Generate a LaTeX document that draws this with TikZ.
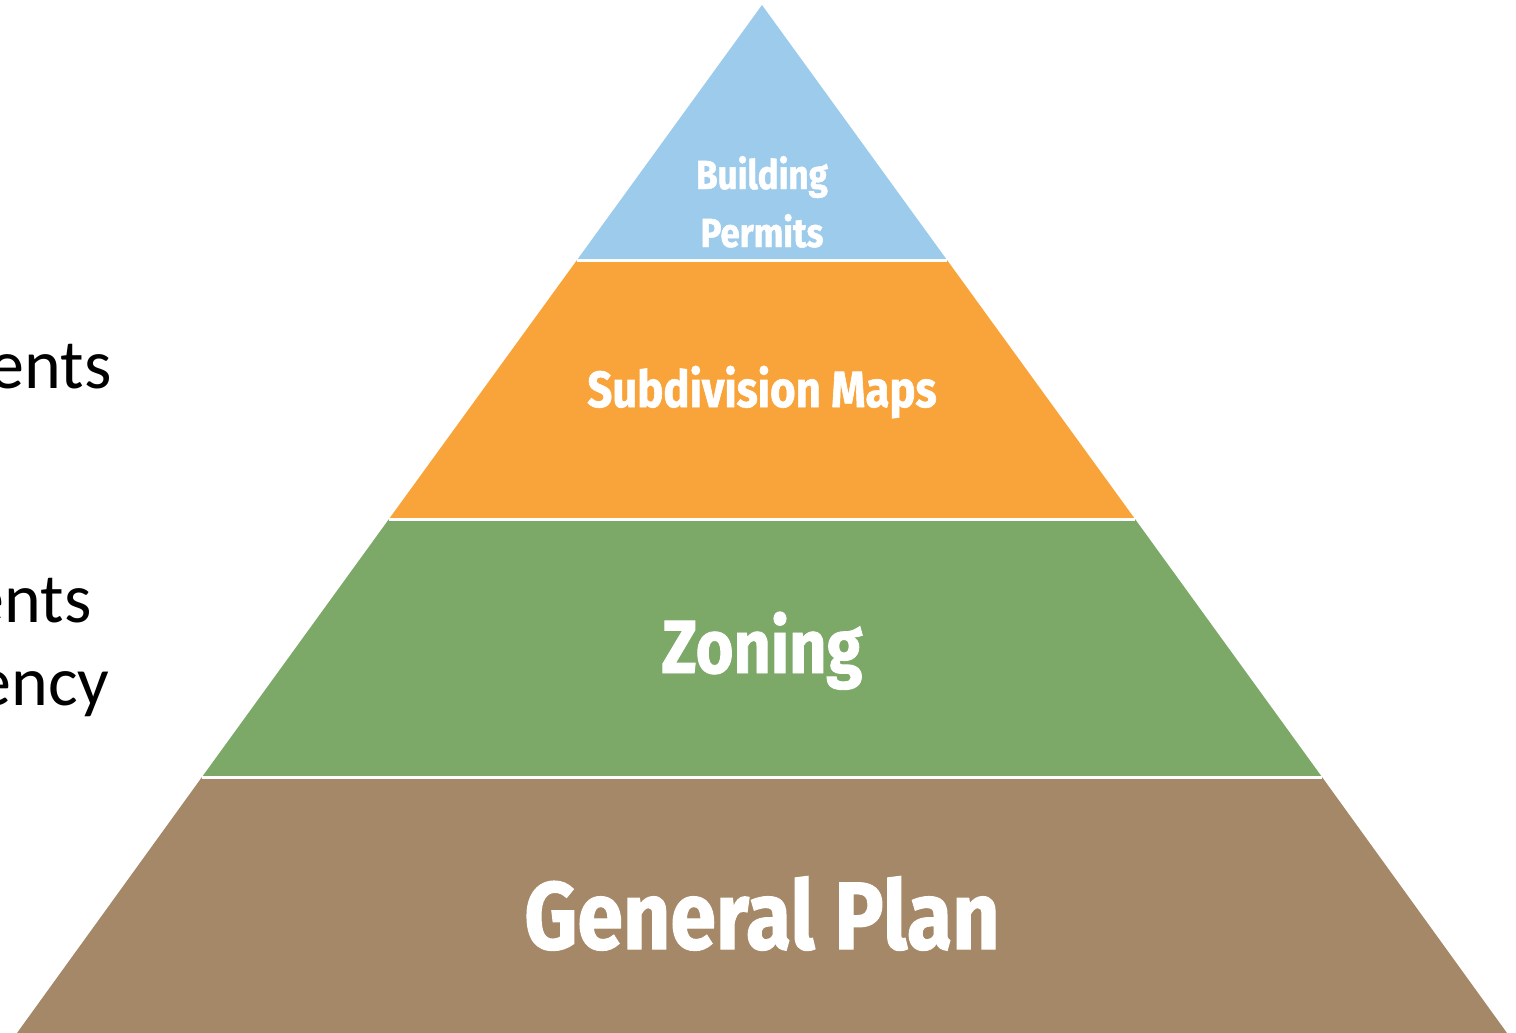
\documentclass[tikz,border=0pt]{standalone}
\usepackage{fontspec}
\setmainfont{Carlito}
\newfontfamily\tierfont[FakeStretch=0.86, BoldFeatures={FakeBold=1.2}]{Fira Sans}
\usetikzlibrary{positioning}
\definecolor{permitblue}{HTML}{9DCBEB}
\definecolor{subdivorange}{HTML}{F9A43A}
\definecolor{zonegreen}{HTML}{7CA968}
\definecolor{planbrown}{HTML}{A58868}
\tikzset{
  tier/.style     = {draw=white, line width=1.5pt, line join=miter},
  tiertext/.style = {text=white, inner sep=0pt, anchor=base},
  sidetext/.style = {text=black, inner sep=0pt, anchor=base east,
                     font=\fontsize{35}{42}\selectfont}
}

\begin{document}
\begin{tikzpicture}[x=0.5pt, y=-0.5pt]
  \useasboundingbox (0,0) rectangle (1516,1033);
  % pyramid tiers, top to bottom
  \fill[planbrown]    (202,777) -- (1322,777) -- (1507,1033) -- (17,1033) -- cycle;
  \fill[zonegreen]    (389,519) -- (1135,519) -- (1322,777) -- (202,777) -- cycle;
  \fill[subdivorange] (577,260) -- (947,260) -- (1135,519) -- (389,519) -- cycle;
  \fill[permitblue]   (762,5) -- (947,260) -- (577,260) -- cycle;
  \draw[tier] (202,777) -- (1322,777);
  \draw[tier] (389,519) -- (1135,519);
  \draw[tier] (577,260) -- (947,260);
  % tier labels
  \node [tiertext, font=\tierfont\bfseries\fontsize{20.3}{24}\selectfont] (build) at (762,189) {Building};
  \node [tiertext, font=\tierfont\bfseries\fontsize{20.3}{24}\selectfont] (permit) at (762,247) {Permits};
  \node [tiertext, font=\tierfont\bfseries\fontsize{25.4}{30}\selectfont] (subdiv) at (762,407) {Subdivision Maps};
  \node [tiertext, font=\tierfont\bfseries\fontsize{37.7}{45}\selectfont] (zoning) at (762,673) {Zoning};
  \node [tiertext, font=\tierfont\bfseries\fontsize{47.9}{57}\selectfont] (plan) at (762,949) {General Plan};
  % text cut off at the left edge
  \node [sidetext] (side1) at (112,388) {ents};
  \node [sidetext] (side2) at (92,622) {ents};
  \node [sidetext] (side3) at (110,705) {ency};
\end{tikzpicture}
\end{document}
